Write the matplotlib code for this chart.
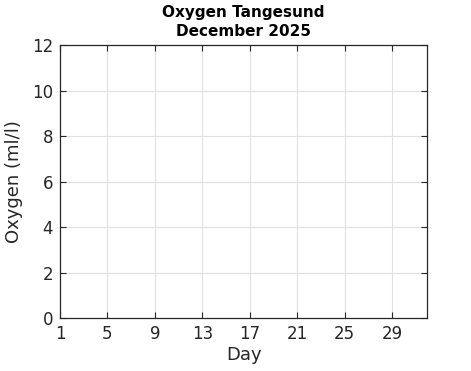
import numpy as np
import matplotlib.pyplot as plt

# no data for this month yet
days = []
oxygen = []

xticks = [1, 5, 9, 13, 17, 21, 25, 29]
yticks = [0, 2, 4, 6, 8, 10, 12]

plt.rcParams['font.family'] = ['DejaVu Sans']

fig = plt.figure(figsize=(4.71, 3.71), dpi=100)
ax = fig.add_axes([0.1274, 0.142, 0.7802, 0.736])

ax.plot(days, oxygen, 'b-')

ax.set_xlim(1, 32)
ax.set_ylim(0, 12)
ax.set_xticks(xticks)
ax.set_yticks(yticks)

ax.grid(True, color='#e0e0e0', linewidth=0.8)
ax.set_axisbelow(True)
ax.tick_params(direction='in', top=True, right=True, length=4, width=0.8,
               labelsize=12, colors='#262626', pad=5)
for s in ax.spines.values():
    s.set_color('#262626')
    s.set_linewidth(0.9)

ax.set_xlabel('Day', fontsize=13, color='#262626', labelpad=2)
ax.set_ylabel('Oxygen (ml/l)', fontsize=13, color='#262626', labelpad=6)
ax.set_title('Oxygen Tangesund\nDecember 2025', fontsize=11, fontweight='bold',
             linespacing=1.3, pad=7)

fig.savefig('out.png', dpi=100)
